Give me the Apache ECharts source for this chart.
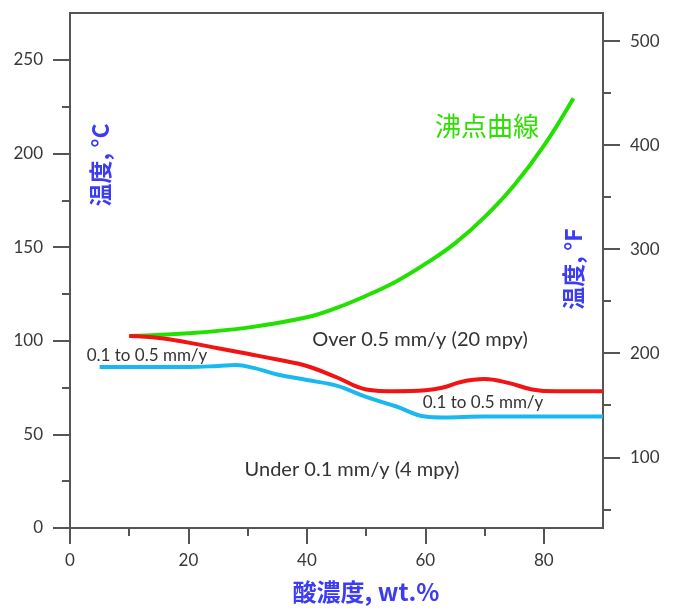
<!DOCTYPE html>
<html>
<head>
<meta charset="utf-8">
<script src="https://cdn.jsdelivr.net/npm/echarts@6/dist/echarts.min.js"></script>
<style>html,body{margin:0;padding:0;background:#fff}#c{width:678px;height:611px}</style>
</head>
<body>
<div id="c"></div>
<script>
// acid concentration (wt.%) vs temperature (°C)
var boilingCurve = [[10,102.5],[20,104],[30,107],[40,112.5],[45,117.5],[50,124],[55,131.5],[60,141],[65,152],[70,166],[75,183],[80,204],[85,229.5]];
var over05Curve = [[10,102.5],[15,101.5],[20,99],[25,96],[30,93],[35,90],[40,86.5],[45,80.5],[50,74],[55,73],[60,73.5],[63,75],[66,78],[70,79.5],[74,77.5],[78,74],[82,73],[90,73]];
var under01Curve = [[5,86],[10,86],[15,86],[20,86],[25,86.5],[28,87],[31,85.5],[35,82],[40,79],[45,76],[50,70],[55,65],[60,59.5],[63,59],[70,59.5],[80,59.5],[90,59.5]];

var xMajorTicks = [0,20,40,60,80];
var xMinorTicks = [10,30,50,70];
var cMajorTicks = [0,50,100,150,200,250];
var cMinorTicks = [25,75,125,175,225];
var fMajorTicks = [100,200,300,400,500];
var fMinorTicks = [50,150,250,350,450];

var C_MIN = 0, C_MAX = 275;
var F_MIN = C_MIN*1.8+32, F_MAX = C_MAX*1.8+32;

var axisColor = '#555';
var labelFont = {color:'#383838', fontSize:17, fontFamily:'Lato'};
var titleBlue = '#3c3cf5';

var chart = echarts.init(document.getElementById('c'));
chart.setOption({
  animation:false,
  backgroundColor:'#fff',
  grid:{left:70, right:75, top:13, bottom:83, show:true, borderColor:axisColor, borderWidth:2},
  xAxis:[
    {type:'value', min:0, max:90, position:'bottom',
     axisLine:{show:true, lineStyle:{color:axisColor, width:2}},
     axisTick:{show:true, customValues:xMajorTicks, length:16, lineStyle:{color:axisColor, width:2}},
     axisLabel:Object.assign({customValues:xMajorTicks, margin:24}, labelFont),
     splitLine:{show:false}},
    {type:'value', min:0, max:90, position:'bottom',
     axisLine:{show:false},
     axisTick:{show:true, customValues:xMinorTicks, length:8, lineStyle:{color:axisColor, width:2}},
     axisLabel:{show:false}, splitLine:{show:false}}
  ],
  yAxis:[
    {type:'value', min:C_MIN, max:C_MAX, position:'left',
     axisLine:{show:true, lineStyle:{color:axisColor, width:2}},
     axisTick:{show:true, customValues:cMajorTicks, length:17, lineStyle:{color:axisColor, width:2}},
     axisLabel:Object.assign({customValues:cMajorTicks, margin:27}, labelFont),
     splitLine:{show:false}},
    {type:'value', min:C_MIN, max:C_MAX, position:'left',
     axisLine:{show:false},
     axisTick:{show:true, customValues:cMinorTicks, length:8, lineStyle:{color:axisColor, width:2}},
     axisLabel:{show:false}, splitLine:{show:false}},
    {type:'value', min:F_MIN, max:F_MAX, position:'right',
     axisLine:{show:true, lineStyle:{color:axisColor, width:2}},
     axisTick:{show:true, customValues:fMajorTicks, length:17, lineStyle:{color:axisColor, width:2}},
     axisLabel:Object.assign({customValues:fMajorTicks, margin:27}, labelFont),
     splitLine:{show:false}},
    {type:'value', min:F_MIN, max:F_MAX, position:'right',
     axisLine:{show:false},
     axisTick:{show:true, customValues:fMinorTicks, length:8, lineStyle:{color:axisColor, width:2}},
     axisLabel:{show:false}, splitLine:{show:false}}
  ],
  series:[
    {name:'沸点曲線', type:'line', data:boilingCurve, smooth:0.4, showSymbol:false,
     lineStyle:{color:'#22e000', width:4}},
    {name:'Over 0.5 mm/y', type:'line', data:over05Curve, smooth:0.4, showSymbol:false,
     lineStyle:{color:'#f01414', width:4}},
    {name:'0.1 mm/y', type:'line', data:under01Curve, smooth:0.4, showSymbol:false,
     lineStyle:{color:'#1ab8f0', width:4}}
  ],
  graphic:[
    {type:'text', x:100, y:165, rotation:Math.PI/2, style:{text:'温度, °C', fill:titleBlue, font:'bold 23px "Noto Sans CJK JP"', align:'center', verticalAlign:'middle'}},
    {type:'text', x:573, y:269, rotation:Math.PI/2, style:{text:'温度, °F', fill:titleBlue, font:'bold 23px "Noto Sans CJK JP"', align:'center', verticalAlign:'middle'}},
    {type:'text', x:366, y:592, style:{text:'酸濃度, wt.%', fill:titleBlue, font:'bold 24px "Noto Sans CJK JP"', align:'center', verticalAlign:'middle'}},
    {type:'text', x:487, y:126, style:{text:'沸点曲線', fill:'#2ee000', font:'26px "Noto Sans CJK JP"', align:'center', verticalAlign:'middle'}},
    {type:'text', x:420, y:340, style:{text:'Over 0.5 mm/y (20 mpy)', fill:'#333', font:'20px Lato', align:'center', verticalAlign:'middle'}},
    {type:'text', x:147, y:356, style:{text:'0.1 to 0.5 mm/y', fill:'#333', font:'17px Lato', align:'center', verticalAlign:'middle'}},
    {type:'text', x:483, y:403, style:{text:'0.1 to 0.5 mm/y', fill:'#333', font:'17px Lato', align:'center', verticalAlign:'middle'}},
    {type:'text', x:352, y:470, style:{text:'Under 0.1 mm/y (4 mpy)', fill:'#333', font:'20px Lato', align:'center', verticalAlign:'middle'}}
  ]
});
</script>
</body>
</html>
